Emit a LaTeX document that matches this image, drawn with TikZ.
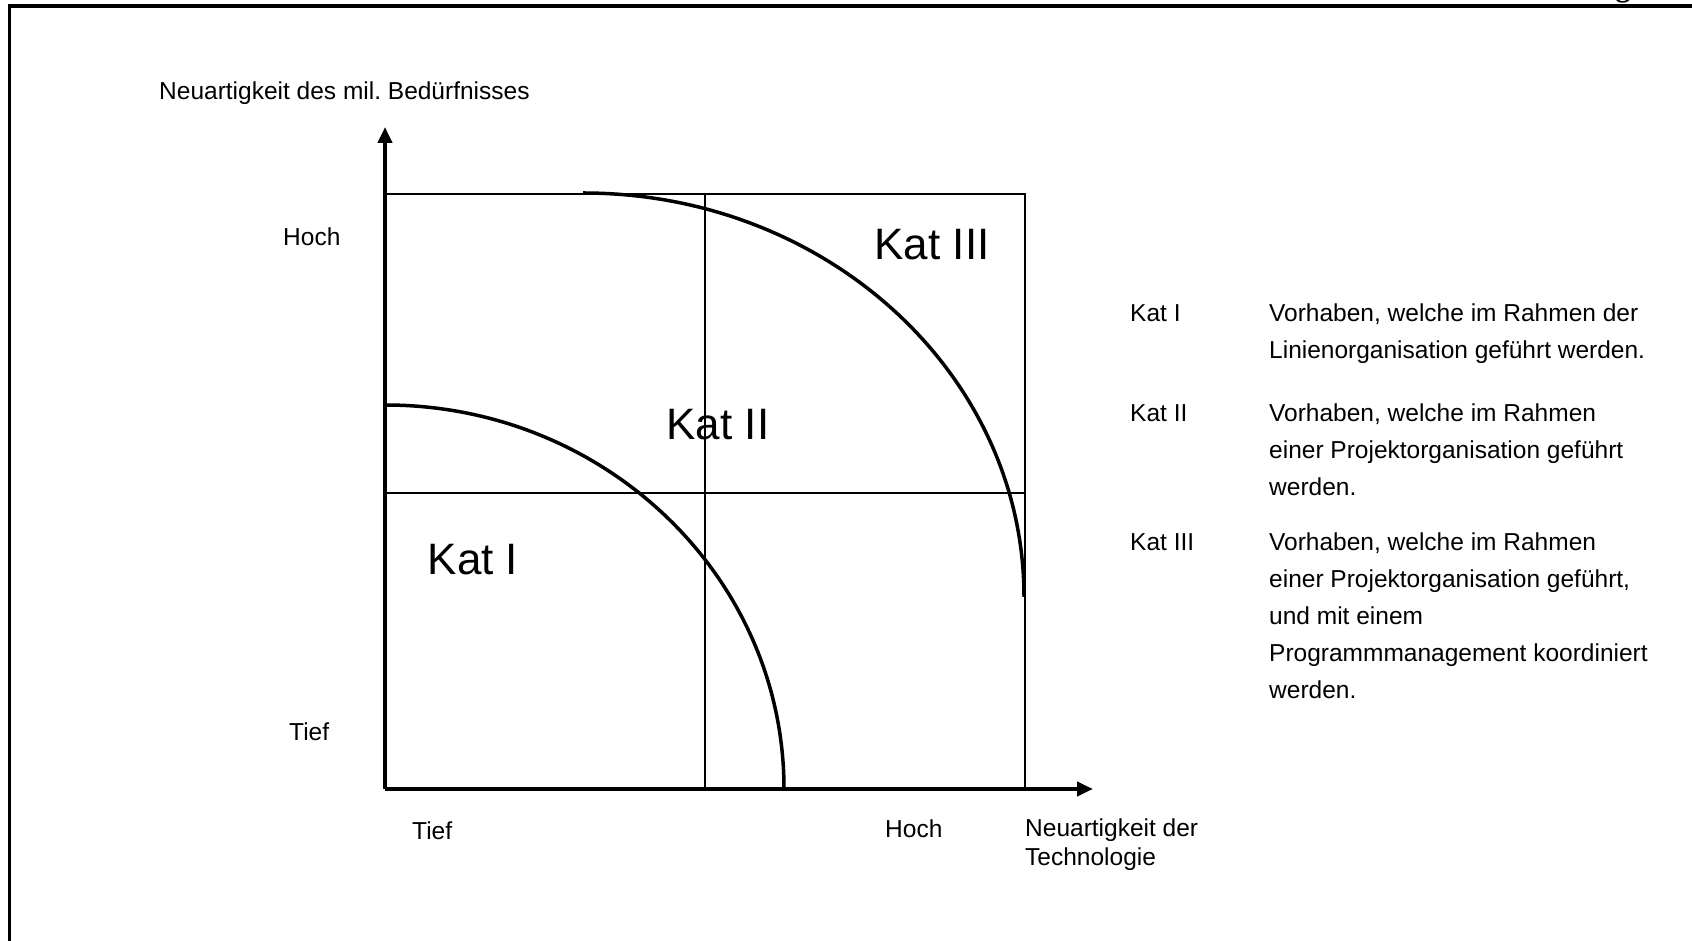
\documentclass[tikz,border=0pt]{standalone}
\usepackage{fontspec}
\setmainfont{Liberation Sans}
\newfontfamily\pageserif{Liberation Serif}
\definecolor{inkBlack}{HTML}{000000}
\definecolor{paperWhite}{HTML}{FFFFFF}
\usepackage{tikz}
\usetikzlibrary{positioning, arrows.meta}
\usepackage{xcolor}
\frenchspacing

\begin{document}
\begin{tikzpicture}[x=1pt, y=1pt,
    axisline/.style={draw=inkBlack, line width=4pt, -{Triangle[length=16pt, width=14pt]}},
    gridline/.style={draw=inkBlack, line width=1.8pt},
    curveline/.style={draw=inkBlack, line width=3.5pt},
    smalltext/.style={inner sep=0pt, text=inkBlack, font=\fontsize{24.5}{29}\selectfont},
    legtext/.style={inner sep=0pt, text=inkBlack, align=left, anchor=base west, font=\fontsize{24.5}{37}\selectfont},
    bigtext/.style={inner sep=0pt, text=inkBlack, font=\fontsize{44}{50}\selectfont}]
      \useasboundingbox[fill=paperWhite] (0,0) rectangle (1692,941);
      % page frame, cut off at bottom and right
      \node[inner sep=0pt, anchor=base, font=\pageserif\bfseries\fontsize{30}{30}\selectfont] (pagechar) at (1623,944.5) {g};
      \draw[draw=inkBlack, line width=3.5pt] (9.5,0) -- (9.5,935) -- (1692,935);

      % axes
      \coordinate (origin) at (385,152);
      \coordinate (ytip) at (385,814);
      \coordinate (xtip) at (1093,152);
      \coordinate (topleft) at (385,747);
      \coordinate (topright) at (1025,747);
      \coordinate (botright) at (1025,152);
      \coordinate (midtop) at (705,747);
      \coordinate (midbot) at (705,152);
      \coordinate (midleft) at (385,448);
      \coordinate (midright) at (1025,448);
      \draw[gridline] (topleft) -- (topright) -- (botright);
      \draw[gridline] (midtop) -- (midbot);
      \draw[gridline] (midleft) -- (midright);
      \draw[axisline] (origin) -- (ytip);
      \draw[axisline] (origin) -- (xtip);

      % category borders
      \coordinate (innerstart) at (385,536);
      \coordinate (outerstart) at (583,748);
      \draw[curveline] (innerstart) arc[start angle=90, end angle=0, x radius=399, y radius=384];
      \draw[curveline] (outerstart) arc[start angle=90, end angle=0, x radius=441, y radius=404];

      % axis labels
      \node[smalltext, anchor=west] (ytitle) at (159,848) {Neuartigkeit des mil. Bedürfnisses};
      \node[smalltext, anchor=west] (yhigh) at (283,704) {Hoch};
      \node[smalltext, anchor=west] (ylow) at (289,209) {Tief};
      \node[smalltext, anchor=west] (xlow) at (412,110) {Tief};
      \node[smalltext, anchor=west] (xhigh) at (885,112) {Hoch};
      \node[smalltext, anchor=north west, align=left] (xtitle) at (1025,122) {Neuartigkeit der\\Technologie};

      % categories
      \node[bigtext] (kat1) at (473,381) {Kat I};
      \node[bigtext] (kat2) at (718,516) {Kat II};
      \node[bigtext] (kat3) at (932,696) {Kat III};

      % legend (base = last line)
      \node[legtext] (leg1) at (1130,619) {Kat I};
      \node[legtext] (leg2) at (1130,519) {Kat II};
      \node[legtext] (leg3) at (1130,390) {Kat III};
      \node[legtext] (desc1) at (1269,582) {Vorhaben, welche im Rahmen der\\Linienorganisation geführt werden.};
      \node[legtext] (desc2) at (1269,445) {Vorhaben, welche im Rahmen\\einer Projektorganisation geführt\\werden.};
      \node[legtext] (desc3) at (1269,242) {Vorhaben, welche im Rahmen\\einer Projektorganisation geführt,\\und mit einem\\Programmmanagement koordiniert\\werden.};
    \end{tikzpicture}
\end{document}
